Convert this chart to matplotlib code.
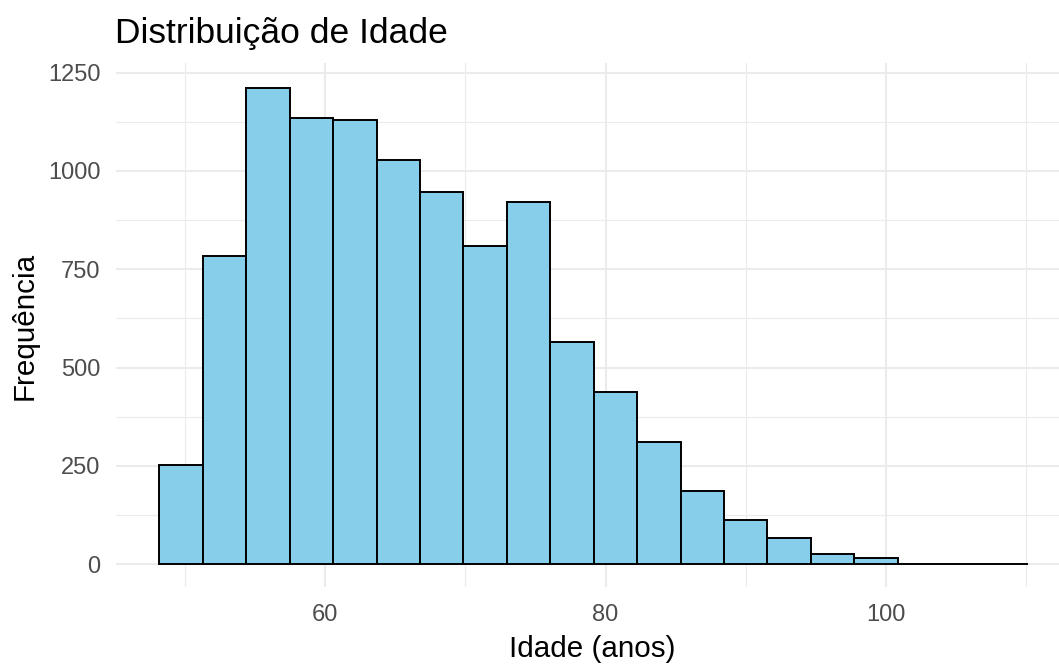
import numpy as np
import matplotlib
matplotlib.use("Agg")
import matplotlib.pyplot as plt

plt.rcParams['font.family'] = ['Liberation Sans', 'DejaVu Sans']

# histogram of ages, 20 bins (counts)
bin_start = 48.2
bin_width = 3.095
counts = [253, 783, 1210, 1134, 1129, 1028, 946, 809, 921, 565,
          438, 311, 187, 112, 66, 25, 15, 1, 1, 1]
edges = bin_start + bin_width * np.arange(len(counts) + 1)

x_major = [60, 80, 100]
x_minor = [50, 70, 90, 110]
y_major = [0, 250, 500, 750, 1000, 1250]
y_minor = [125, 375, 625, 875, 1125]

fig = plt.figure(figsize=(10.59, 6.65), dpi=100)
ax = fig.add_axes([116 / 1059, 1 - 587.3 / 665, 943 / 1059, 524 / 665])

ax.bar(edges[:-1], counts, width=bin_width, align='edge',
       color='#87CEEB', edgecolor='black', linewidth=1.4, zorder=3)

ax.set_xlim(45.10, 112.32)
ax.set_ylim(-58.5, 1273.8)

ax.set_xticks(x_major)
ax.set_xticks(x_minor, minor=True)
ax.set_yticks(y_major)
ax.set_yticks(y_minor, minor=True)
ax.grid(True, which='major', color='#EBEBEB', linewidth=1.5, zorder=0)
ax.grid(True, which='minor', color='#EBEBEB', linewidth=0.8, zorder=0)
ax.tick_params(which='both', length=0)
ax.tick_params(axis='both', labelsize=17, labelcolor='#4D4D4D')
ax.tick_params(axis='y', pad=11)
ax.tick_params(axis='x', pad=12)
for s in ax.spines.values():
    s.set_visible(False)

fig.text(115 / 1059, 1 - 43.5 / 665, 'Distribuição de Idade', fontsize=25.5,
         ha='left', va='baseline', color='black')
fig.text(592 / 1059, 1 - 657 / 665, 'Idade (anos)', fontsize=21.3,
         ha='center', va='baseline', color='black')
fig.text(33 / 1059, 1 - 326 / 665, 'Frequência', fontsize=21.3, rotation=90,
         rotation_mode='anchor', ha='center', va='baseline', color='black')

fig.savefig('out.png', dpi=100)
